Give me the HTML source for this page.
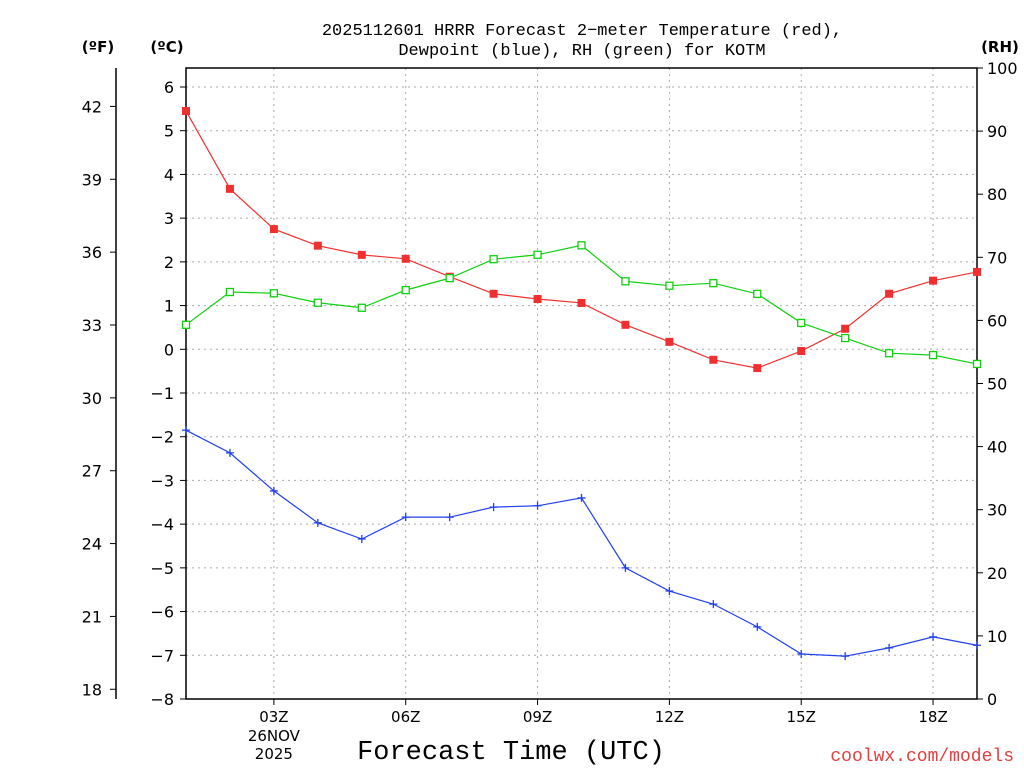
<!DOCTYPE html>
<html><head><meta charset="utf-8"><style>
body{margin:0;background:#fff;}
svg{display:block;font-family:"DejaVu Sans","Liberation Sans",sans-serif;}
</style></head><body>
<svg id="c" width="1024" height="768" xmlns="http://www.w3.org/2000/svg"></svg>
<script>
const hours=[1,2,3,4,5,6,7,8,9,10,11,12,13,14,15,16,17,18,19];
const tempC=[5.45,3.67,2.75,2.37,2.16,2.07,1.66,1.27,1.15,1.06,0.56,0.17,-0.24,-0.43,-0.04,0.47,1.27,1.57,1.77];
const dewC=[-1.85,-2.37,-3.24,-3.97,-4.34,-3.84,-3.84,-3.61,-3.58,-3.40,-5.00,-5.53,-5.83,-6.35,-6.97,-7.02,-6.83,-6.58,-6.77];
const rh=[59.3,64.5,64.3,62.8,62.0,64.8,66.7,69.7,70.4,71.9,66.2,65.5,65.9,64.2,59.6,57.2,54.8,54.5,53.1];
const cTicks=[-8,-7,-6,-5,-4,-3,-2,-1,0,1,2,3,4,5,6];
const fTicks=[18,21,24,27,30,33,36,39,42];
const rhTicks=[0,10,20,30,40,50,60,70,80,90,100];
const xTickHours=[3,6,9,12,15,18];
const xTickLabels=["03Z","06Z","09Z","12Z","15Z","18Z"];

const L=186,R=977,T=68,B=699;
const X=h=>L+(h-1)*(R-L)/18;
const YC=c=>B-(c+8)*(612/14);
const YF=f=>YC((f-32)*5/9);
const YR=r=>B-r*(B-T)/100;
const svg=document.getElementById('c');
const NS='http://www.w3.org/2000/svg';
function mk(tag,attrs,name,txt){const e=document.createElementNS(NS,tag);for(const k in attrs)e.setAttribute(k,attrs[k]);


if(txt!==undefined)e.textContent=txt;svg.appendChild(e);return e;}
const MONO='"Liberation Mono","DejaVu Sans Mono",monospace';

cTicks.forEach(c=>{if(c>-8)mk('line',{x1:L,x2:R,y1:YC(c),y2:YC(c),stroke:'#aaa','stroke-dasharray':'2,4'},'h-gridline');});
xTickHours.forEach(h=>mk('line',{x1:X(h),x2:X(h),y1:T,y2:B,stroke:'#aaa','stroke-dasharray':'2,4'},'v-gridline'));
mk('rect',{x:L,y:T,width:R-L,height:B-T,fill:'none',stroke:'#000','stroke-width':1.5},'plot-frame');
mk('line',{x1:116,x2:116,y1:T,y2:B,stroke:'#000','stroke-width':1.5},'fahrenheit-axis-line');
cTicks.forEach(c=>{mk('line',{x1:L-6,x2:L,y1:YC(c),y2:YC(c),stroke:'#000'},'celsius-tick');
mk('text',{x:L-12,y:YC(c)+6,'text-anchor':'end','font-size':16},'celsius-tick-label',c<0?'\u2212'+(-c):String(c));});
fTicks.forEach(f=>{mk('line',{x1:110,x2:116,y1:YF(f),y2:YF(f),stroke:'#000'},'fahrenheit-tick');
mk('text',{x:102,y:YF(f)+6,'text-anchor':'end','font-size':16},'fahrenheit-tick-label',String(f));});
rhTicks.forEach(r=>{mk('line',{x1:R,x2:R+6,y1:YR(r),y2:YR(r),stroke:'#000'},'rh-tick');
mk('text',{x:R+10,y:YR(r)+6,'font-size':16},'rh-tick-label',String(r));});
xTickHours.forEach((h,i)=>{mk('line',{x1:X(h),x2:X(h),y1:B,y2:B+6,stroke:'#000'},'x-tick');
mk('text',{x:X(h),y:B+23,'text-anchor':'middle','font-size':15},'x-tick-label',xTickLabels[i]);});
mk('text',{x:X(3),y:B+42,'text-anchor':'middle','font-size':15},'date-label','26NOV');
mk('text',{x:X(3),y:B+60,'text-anchor':'middle','font-size':15},'year-label','2025');
mk('text',{x:98,y:52,'text-anchor':'middle','font-size':15,'font-weight':'bold'},'fahrenheit-unit','(ºF)');
mk('text',{x:167,y:52,'text-anchor':'middle','font-size':15,'font-weight':'bold'},'celsius-unit','(ºC)');
mk('text',{x:1000,y:52,'text-anchor':'middle','font-size':15,'font-weight':'bold'},'rh-unit','(RH)');
mk('text',{x:582,y:35,'text-anchor':'middle','font-size':17,'font-family':MONO},'chart-title-line1','2025112601 HRRR Forecast 2\u2212meter Temperature (red),');
mk('text',{x:582,y:55,'text-anchor':'middle','font-size':17,'font-family':MONO},'chart-title-line2','Dewpoint (blue), RH (green) for KOTM');
mk('text',{x:511,y:759,'text-anchor':'middle','font-size':27,'font-family':MONO},'x-axis-title','Forecast Time (UTC)');
mk('text',{x:1014,y:761,'text-anchor':'end','font-size':18,'font-family':MONO,fill:'#e04040'},'source-credit','coolwx.com/models');

function series(vals,yf,color,name){
  mk('polyline',{points:hours.map((h,i)=>X(h)+','+yf(vals[i])).join(' '),fill:'none',stroke:color,'stroke-width':1.2},name+'-line');
  return hours.map((h,i)=>[X(h),yf(vals[i])]);
}
series(tempC,YC,'#f03030','temperature').forEach(([x,y])=>mk('rect',{x:x-4,y:y-4,width:8,height:8,fill:'#f03030'},'temperature-marker'));
series(rh,YR,'#10d010','rh').forEach(([x,y])=>mk('rect',{x:x-3.5,y:y-3.5,width:7,height:7,fill:'#fff',stroke:'#10d010','stroke-width':1.3},'rh-marker'));
series(dewC,YC,'#2040f0','dewpoint').forEach(([x,y])=>mk('path',{d:`M${x-4},${y}H${x+4}M${x},${y-4}V${y+4}`,stroke:'#2040f0','stroke-width':1.3},'dewpoint-marker'));
</script>
</body></html>
